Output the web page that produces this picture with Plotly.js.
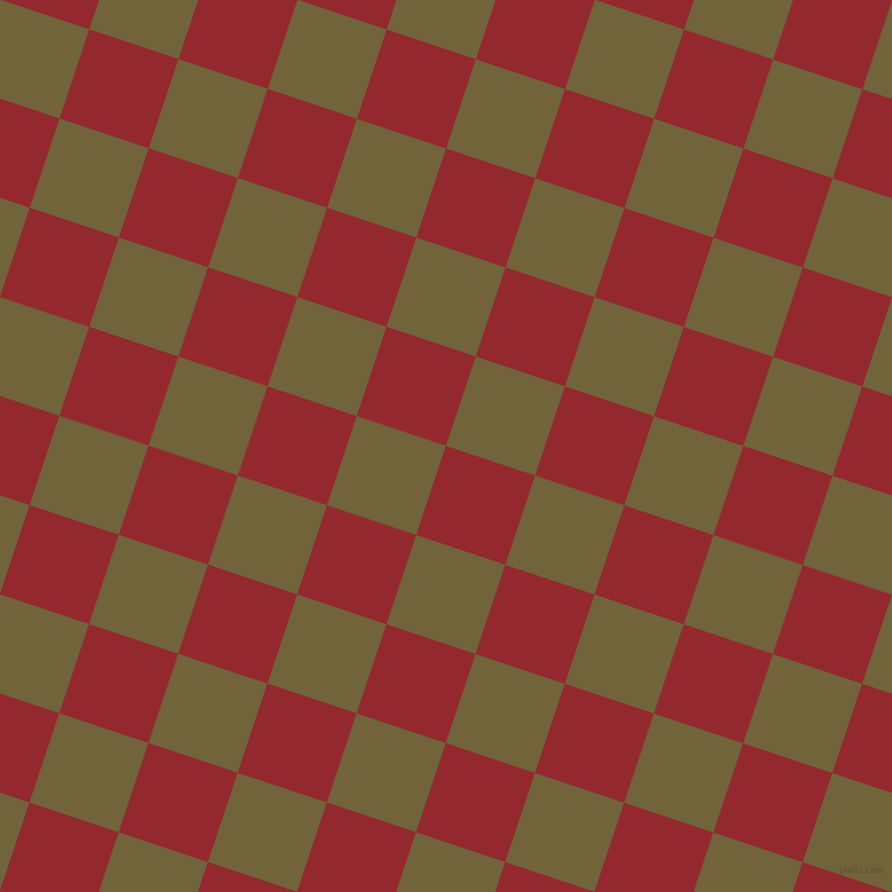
<!DOCTYPE html>
<html>
<head>
<meta charset="utf-8">
<script src="https://cdn.plot.ly/plotly-3.0.1.min.js"></script>
<style>
  html, body { margin: 0; padding: 0; background: #71643b; }
  #chart { width: 892px; height: 892px; }
</style>
</head>
<body>
<div id="chart"></div>
<script>
// checkerboard cells, indexed along the two tilted grid directions
const colIdx = [-2, -1, 0, 1, 2, 3, 4, 5, 6, 7, 8, 9, 10, 11]
const rowIdx = [-4, -3, -2, -1, 0, 1, 2, 3, 4, 5, 6, 7, 8, 9]
const cellColors = ["#93282f", "#71643b"]
const colorNames = ["red", "olive"]

// grid placement in pixels
const origin = [89.3, 29.3]
const stepA = [89.19, 29.78]
const stepB = [-29.78, 89.19]

function corner(i, j) {
    return [origin[0] + i * stepA[0] + j * stepB[0],
            origin[1] + i * stepA[1] + j * stepB[1]]
}

function buildTrace(parity) {
    let xs = []
    let ys = []
    for (let i of colIdx) {
        for (let j of rowIdx) {
            if (((i + j) % 2 + 2) % 2 != parity) continue
            let pts = [corner(i, j), corner(i + 1, j), corner(i + 1, j + 1), corner(i, j + 1), corner(i, j)]
            for (let p of pts) {
                xs.push(p[0])
                ys.push(p[1])
            }
            xs.push(null)
            ys.push(null)
        }
    }
    return {
        x: xs,
        y: ys,
        name: colorNames[parity],
        mode: "lines",
        fill: "toself",
        fillcolor: cellColors[parity],
        line: { width: 0, color: cellColors[parity] },
        hoverinfo: "skip",
        showlegend: false
    }
}

var data = [buildTrace(1), buildTrace(0)]

var layout = {
    width: 892,
    height: 892,
    margin: { l: 0, r: 0, t: 0, b: 0 },
    paper_bgcolor: "#71643b",
    plot_bgcolor: "#71643b",
    xaxis: { range: [0, 892], visible: false, fixedrange: true },
    yaxis: { range: [892, 0], visible: false, fixedrange: true },
    showlegend: false,
    annotations: [{
        text: "pixlis.com",
        xref: "paper",
        yref: "paper",
        x: 0.993,
        y: 0.025,
        xanchor: "right",
        yanchor: "middle",
        showarrow: false,
        font: { family: "DejaVu Sans", size: 9, color: "#5b512f" }
    }]
}

Plotly.newPlot("chart", data, layout, { displayModeBar: false, staticPlot: true })
</script>
</body>
</html>
